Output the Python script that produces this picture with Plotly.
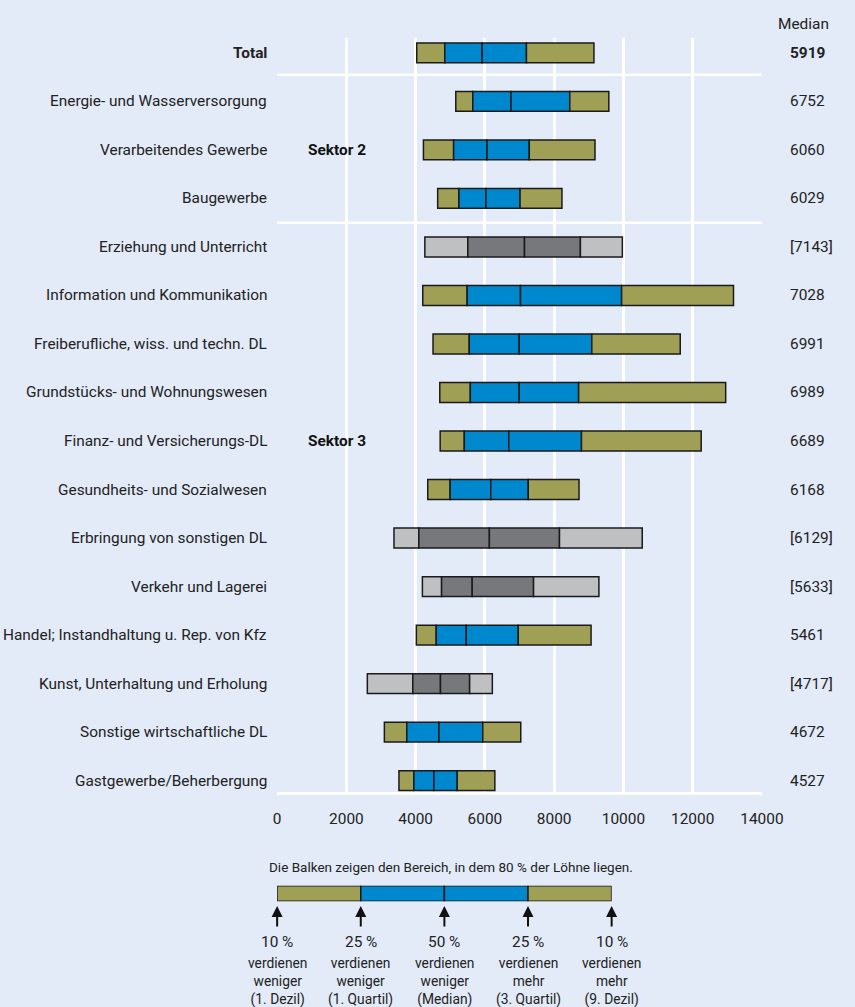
import plotly.graph_objects as go

# Bruttolöhne nach Wirtschaftsabschnitt (Fr. pro Monat)
labels = [
    "Total",
    "Energie- und Wasserversorgung",
    "Verarbeitendes Gewerbe",
    "Baugewerbe",
    "Erziehung und Unterricht",
    "Information und Kommunikation",
    "Freiberufliche, wiss. und techn. DL",
    "Grundstücks- und Wohnungswesen",
    "Finanz- und Versicherungs-DL",
    "Gesundheits- und Sozialwesen",
    "Erbringung von sonstigen DL",
    "Verkehr und Lagerei",
    "Handel; Instandhaltung u. Rep. von Kfz",
    "Kunst, Unterhaltung und Erholung",
    "Sonstige wirtschaftliche DL",
    "Gastgewerbe/Beherbergung",
]
dezil1 = [4031, 5159, 4225, 4636, 4266, 4205, 4502, 4697, 4708, 4349, 3374, 4195, 4020, 2605, 3097, 3518]
quartil1 = [4841, 5651, 5097, 5251, 5507, 5487, 5548, 5579, 5405, 4995, 4092, 4749, 4595, 3918, 3744, 3949]
median = [5919, 6752, 6060, 6029, 7143, 7028, 6991, 6989, 6689, 6168, 6129, 5633, 5461, 4717, 4672, 4527]
quartil3 = [7200, 8451, 7282, 7015, 8758, 9948, 9087, 8707, 8789, 7251, 8154, 7405, 6964, 5559, 5938, 5200]
dezil9 = [9149, 9579, 9179, 8225, 9969, 13179, 11641, 12953, 12246, 8718, 10543, 9292, 9066, 6215, 7035, 6287]
unsicher = [False, False, False, False, True, False, False, False, False, False, True, True, False, True, False, False]

sektoren = ["Sektor 2", "Sektor 3"]
sektor_rows = [2, 8]

x_ticks = [0, 2000, 4000, 6000, 8000, 10000, 12000, 14000]

legend_title = "Die Balken zeigen den Bereich, in dem 80 % der Löhne liegen."
legend_segments = [1, 1, 1, 1]
legend_pct = ["10 %", "25 %", "50 %", "25 %", "10 %"]
legend_text = [
    "verdienen<br>weniger<br>(1. Dezil)",
    "verdienen<br>weniger<br>(1. Quartil)",
    "verdienen<br>weniger<br>(Median)",
    "verdienen<br>mehr<br>(3. Quartil)",
    "verdienen<br>mehr<br>(9. Dezil)",
]

OLIVE = "#9fa055"
BLUE = "#0088cf"
LGRAY = "#bfc0c2"
DGRAY = "#77787c"
BG = "#e2ebf7"
TXT = "#222222"
FONT = "Roboto, Liberation Sans, sans-serif"
FS = 15.4

W, H = 855, 1007
rows = list(range(len(labels)))

fig = go.Figure()

outer = [LGRAY if u else OLIVE for u in unsicher]
inner = [DGRAY if u else BLUE for u in unsicher]
segs = [
    (dezil1, quartil1, outer),
    (quartil1, median, inner),
    (median, quartil3, inner),
    (quartil3, dezil9, outer),
]
for lo, hi, cols in segs:
    fig.add_trace(go.Bar(
        y=rows, x=[h - l for l, h in zip(lo, hi)], base=lo,
        orientation="h", width=0.41,
        marker=dict(color=cols, line=dict(color="#1a1a1a", width=1.5)),
        xaxis="x", yaxis="y", showlegend=False, hoverinfo="skip",
    ))

# legend bar
lcols = [OLIVE, BLUE, BLUE, OLIVE]
start = 0
for v, c in zip(legend_segments, lcols):
    fig.add_trace(go.Bar(
        y=[0], x=[v], base=[start], orientation="h", width=1,
        marker=dict(color=c, line=dict(color="#1a1a1a", width=1.5)),
        xaxis="x2", yaxis="y2", showlegend=False, hoverinfo="skip",
    ))
    start += v

ann = []
for i, lab in enumerate(labels):
    bold = i == 0
    ann.append(dict(
        x=273 / W, xref="paper", y=i, yref="y", xanchor="right", yanchor="middle",
        text=f"<b>{lab}</b>" if bold else lab, showarrow=False,
        font=dict(size=FS, color=TXT, family=FONT),
    ))
    m = f"[{median[i]}]" if unsicher[i] else str(median[i])
    ann.append(dict(
        x=809 / W, xref="paper", y=i, yref="y", xanchor="left", yanchor="middle",
        text=f"<b>{m}</b>" if bold else m, showarrow=False,
        font=dict(size=FS, color=TXT, family=FONT),
    ))
ann.append(dict(
    x=853 / W, xref="paper", y=1 - 24 / H, yref="paper", xanchor="right", yanchor="middle",
    text="Median", showarrow=False, font=dict(size=FS, color=TXT, family=FONT),
))
for s, r in zip(sektoren, sektor_rows):
    ann.append(dict(
        x=1720, xref="x", y=r, yref="y", xanchor="center", yanchor="middle",
        text=f"<b>{s}</b>", showarrow=False, font=dict(size=FS, color="#111", family=FONT),
    ))

# legend texts and arrows
ann.append(dict(
    x=461.5 / W, xref="paper", y=1 - 866.7 / H, yref="paper", xanchor="center", yanchor="middle",
    text=legend_title, showarrow=False, font=dict(size=13.5, color=TXT, family=FONT),
))
pos = 0
for k in range(len(legend_pct)):
    ann.append(dict(
        x=pos, xref="x2", y=1 - 906 / H, yref="paper", text="", showarrow=True,
        ax=0, ay=22, arrowhead=2, arrowsize=1.1, arrowwidth=2, arrowcolor="#111",
    ))
    ann.append(dict(
        x=pos, xref="x2", y=1 - 941.7 / H, yref="paper", xanchor="center", yanchor="middle",
        text=legend_pct[k], showarrow=False, font=dict(size=FS, color=TXT, family=FONT),
    ))
    ann.append(dict(
        x=pos, xref="x2", y=1 - 981 / H, yref="paper", xanchor="center", yanchor="middle",
        text=legend_text[k], showarrow=False, font=dict(size=13.8, color=TXT, family=FONT),
    ))
    if k < len(legend_segments):
        pos += legend_segments[k]

shapes = [
    dict(type="line", xref="x", yref="y", x0=0, x1=14000, y0=0.45, y1=0.45,
         line=dict(color="white", width=2.5), layer="below"),
    dict(type="line", xref="x", yref="y", x0=0, x1=14000, y0=3.5, y1=3.5,
         line=dict(color="white", width=2.5), layer="below"),
]

fig.update_layout(
    width=W, height=H,
    margin=dict(l=0, r=0, t=0, b=0),
    paper_bgcolor=BG, plot_bgcolor=BG,
    barmode="overlay",
    font=dict(family=FONT, size=FS, color=TXT),
    xaxis=dict(
        domain=[281.7 / W, 781.7 / W], range=[0, 14000],
        tickvals=x_ticks, ticktext=[str(t) for t in x_ticks],
        showgrid=True, gridcolor="white", gridwidth=2.5, zeroline=False,
        showline=True, linecolor="white", linewidth=2.5,
        ticks="outside", ticklen=10, tickcolor="rgba(0,0,0,0)",
        tickfont=dict(size=FS, color=TXT, family=FONT), fixedrange=True,
    ),
    yaxis=dict(
        domain=[1 - 792.3 / H, 1 - 38.3 / H], range=[15.24, -0.30],
        showticklabels=False, showgrid=False, zeroline=False, fixedrange=True,
    ),
    xaxis2=dict(
        domain=[281.7 / W, 626.7 / W], range=[0, 4], anchor="y2",
        visible=False, fixedrange=True,
    ),
    yaxis2=dict(
        domain=[1 - 901.3 / H, 1 - 885.7 / H], range=[-0.5, 0.5], anchor="x2",
        visible=False, fixedrange=True,
    ),
    annotations=ann,
    shapes=shapes,
)

fig.write_html(
    "out.html",
    config={"displayModeBar": False},
    post_script="document.body.style.margin='0';document.body.style.overflow='hidden';",
)
